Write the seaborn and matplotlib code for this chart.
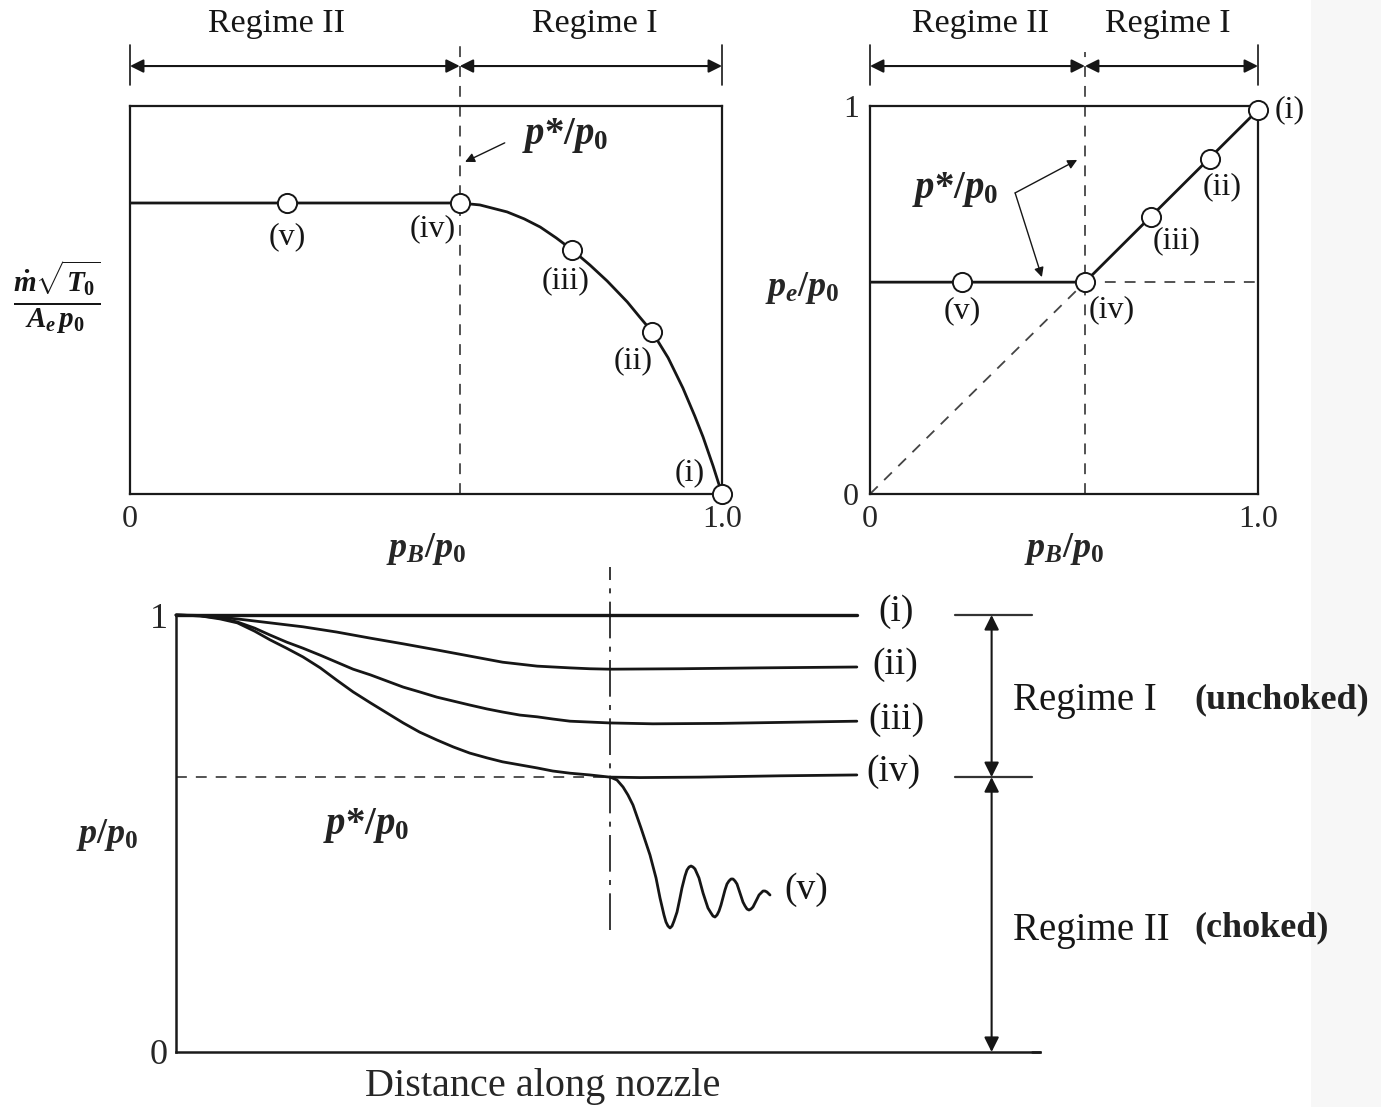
import numpy as np
import pandas as pd
import matplotlib
matplotlib.use("Agg")
import matplotlib.pyplot as plt
import seaborn as sns
from matplotlib.patches import Rectangle

# ---- mass flow parameter vs back pressure (upper left) ----
mdot_pb = [0.0, 0.557, 0.591, 0.637, 0.666, 0.693, 0.720, 0.747, 0.777, 0.806, 0.840,
           0.861, 0.882, 0.909, 0.934, 0.954, 0.968, 0.985, 1.0]
mdot_val = [0.750, 0.750, 0.745, 0.727, 0.709, 0.688, 0.660, 0.629, 0.590, 0.549, 0.495,
            0.456, 0.418, 0.351, 0.273, 0.201, 0.147, 0.072, 0.0]
mdot_pts_pb = [0.265, 0.557, 0.747, 0.882, 1.0]
mdot_pts_val = [0.750, 0.750, 0.629, 0.418, 0.0]
case_labels = ["(v)", "(iv)", "(iii)", "(ii)", "(i)"]
pstar_left = 0.557

# ---- exit pressure vs back pressure (upper right) ----
pe_pb = [0.0, 0.554, 1.0]
pe_val = [0.546, 0.546, 0.99]
pe_pts_pb = [0.237, 0.554, 0.724, 0.876, 1.0]
pe_pts_val = [0.546, 0.546, 0.715, 0.863, 0.99]
pstar_right = 0.554

# ---- pressure distributions along the nozzle (bottom) ----
x_i = [0.0, 0.788]
p_i = [1.0, 1.0]
x_ii = [0.0, 0.028, 0.051, 0.071, 0.109, 0.147, 0.186, 0.225, 0.263, 0.302, 0.340, 0.378,
        0.418, 0.456, 0.479, 0.502, 0.583, 0.676, 0.788]
p_ii = [1.0, 0.999, 0.995, 0.991, 0.982, 0.973, 0.961, 0.947, 0.934, 0.920, 0.906, 0.892,
        0.883, 0.879, 0.877, 0.876, 0.877, 0.879, 0.881]
x_iii = [0.0, 0.028, 0.051, 0.071, 0.091, 0.109, 0.128, 0.147, 0.167, 0.186, 0.205, 0.225,
         0.244, 0.263, 0.282, 0.302, 0.321, 0.340, 0.360, 0.378, 0.398, 0.418, 0.436, 0.456,
         0.479, 0.502, 0.552, 0.630, 0.788]
p_iii = [1.0, 0.998, 0.993, 0.984, 0.970, 0.954, 0.938, 0.924, 0.908, 0.892, 0.876, 0.863,
         0.849, 0.835, 0.824, 0.812, 0.803, 0.794, 0.785, 0.778, 0.771, 0.767, 0.762, 0.757,
         0.755, 0.753, 0.751, 0.752, 0.757]
x_iv = [0.0, 0.028, 0.051, 0.071, 0.091, 0.109, 0.128, 0.147, 0.167, 0.186, 0.205, 0.225,
        0.244, 0.263, 0.282, 0.302, 0.321, 0.340, 0.360, 0.378, 0.398, 0.418, 0.436, 0.456,
        0.479, 0.502, 0.537, 0.606, 0.699, 0.788]
p_iv = [1.0, 0.998, 0.991, 0.982, 0.963, 0.943, 0.924, 0.904, 0.879, 0.851, 0.824, 0.799,
        0.776, 0.753, 0.732, 0.714, 0.698, 0.684, 0.673, 0.664, 0.657, 0.650, 0.643, 0.638,
        0.634, 0.629, 0.628, 0.629, 0.632, 0.634]
x_v = [0.5023, 0.5104, 0.5174, 0.5231, 0.5289, 0.5382, 0.5486, 0.5556, 0.5602, 0.5648,
       0.5671, 0.5694, 0.5718, 0.5741, 0.5764, 0.5799, 0.5833, 0.5856, 0.5891, 0.5914,
       0.5938, 0.5961, 0.5984, 0.6007, 0.6053, 0.6100, 0.6134, 0.6157, 0.6192, 0.6215,
       0.6238, 0.6262, 0.6285, 0.6308, 0.6354, 0.6377, 0.6400, 0.6424, 0.6447, 0.6470,
       0.6493, 0.6539, 0.6562, 0.6586, 0.6609, 0.6632, 0.6655, 0.6678, 0.6725, 0.6748,
       0.6771, 0.6794, 0.6817, 0.6840, 0.6875]
p_v = [0.6293, 0.6224, 0.6064, 0.5881, 0.5652, 0.5126, 0.4508, 0.3982, 0.3524, 0.3135,
       0.2975, 0.2883, 0.2838, 0.2883, 0.2998, 0.3204, 0.3524, 0.3753, 0.4027, 0.4165,
       0.4233, 0.4256, 0.4233, 0.4188, 0.3982, 0.3638, 0.3432, 0.3295, 0.3181, 0.3112,
       0.3089, 0.3135, 0.3227, 0.3364, 0.3707, 0.3844, 0.3913, 0.3959, 0.3959, 0.3913,
       0.3844, 0.3570, 0.3432, 0.3341, 0.3272, 0.3249, 0.3272, 0.3318, 0.3501, 0.3593,
       0.3638, 0.3684, 0.3684, 0.3661, 0.3593]
x_throat = 0.502
p_star_bottom = 0.629

sns.set_theme(style="white")
plt.rcParams.update({
    "font.family": ["Liberation Serif", "DejaVu Serif"],
    "mathtext.fontset": "custom",
    "mathtext.rm": "Liberation Serif:bold",
    "mathtext.it": "Liberation Serif:italic:bold",
    "mathtext.bf": "Liberation Serif:bold",
    "axes.edgecolor": "#1a1a1a",
    "lines.solid_joinstyle": "round",
    "lines.solid_capstyle": "round",
})

INK = "#161616"
DASH = "#444444"
PSTAR = r"$p{*}/p_0$"

fig = plt.figure(figsize=(13.81, 11.07), dpi=100)
fig.patch.set_facecolor("white")
fig.patches.append(Rectangle((1311 / 1381, 0), 70 / 1381, 1, transform=fig.transFigure,
                             facecolor="#f7f7f7", edgecolor="none", zorder=-5))

W, H = 1381, 1107


def place(x0, y0, x1, y1):
    return fig.add_axes([x0 / W, 1 - y1 / H, (x1 - x0) / W, (y1 - y0) / H])


def darrow(ax, p0, p1, ms=20, lw=1.5):
    ax.annotate("", xy=p1, xytext=p0, xycoords="data", textcoords="data",
                arrowprops=dict(arrowstyle="<|-|>", color=INK, lw=lw,
                                mutation_scale=ms, shrinkA=0, shrinkB=0),
                annotation_clip=False)


def sarrow(ax, p0, p1, ms=16, lw=1.0):
    ax.annotate("", xy=p1, xytext=p0, xycoords="data", textcoords="data",
                arrowprops=dict(arrowstyle="-|>", color=INK, lw=lw,
                                mutation_scale=ms, shrinkA=0, shrinkB=0),
                annotation_clip=False)


marker_kw = dict(s=190, color="white", edgecolor=INK, linewidth=1.4, zorder=5, clip_on=False)

# ================= upper left =================
axL = place(130, 106, 722, 494)
sns.lineplot(data=pd.DataFrame({"pb": mdot_pb, "m": mdot_val}), x="pb", y="m", ax=axL,
             color=INK, lw=2.0, sort=False, estimator=None)
sns.scatterplot(data=pd.DataFrame({"pb": mdot_pts_pb, "m": mdot_pts_val}), x="pb", y="m",
                ax=axL, legend=False, **marker_kw)
axL.set_xlim(0, 1)
axL.set_ylim(0, 1)
axL.plot([pstar_left, pstar_left], [0, 1.16], color=DASH, lw=1.3, ls=(0, (6, 5)), clip_on=False)
for sp in axL.spines.values():
    sp.set_linewidth(1.6)
axL.set_xticks([0, 1])
axL.set_xticklabels(["0", "1.0"], fontsize=23)
axL.set_yticks([])
axL.tick_params(axis="x", length=0, pad=8)
axL.set_xlabel(r"$p_B/p_0$", fontsize=26, labelpad=-2)
axL.set_ylabel("")
fig.text(57 / W, 1 - 297 / H, r"$\frac{\dot{m}\sqrt{T_0}}{A_e\,p_0}$", fontsize=30,
         ha="center", va="center", color=INK)
lab_pos_L = [(0.265, 0.662), (0.512, 0.683), (0.735, 0.549), (0.850, 0.343), (0.946, 0.054)]
for lab, (x, y) in zip(case_labels, lab_pos_L):
    axL.text(x, y, lab, fontsize=23, ha="center", va="center", color=INK)
axL.text(0.662, 0.925, PSTAR, fontsize=28, ha="left", va="center", color="#222222")
sarrow(axL, (0.633, 0.905), (0.566, 0.856), ms=14)
for xx in (0.0, 1.0):
    axL.plot([xx, xx], [1.054, 1.157], color=INK, lw=1.2, clip_on=False)
darrow(axL, (0.0, 1.103), (pstar_left, 1.103))
darrow(axL, (pstar_left, 1.103), (1.0, 1.103))
axL.text(0.247, 1.211, "Regime II", fontsize=24.5, ha="center", va="center", color=INK)
axL.text(0.785, 1.211, "Regime I", fontsize=24.5, ha="center", va="center", color=INK)

# ================= upper right =================
axR = place(870, 106, 1258, 494)
axR.set_xlim(0, 1)
axR.set_ylim(0, 1)
axR.plot([0, pstar_right], [0, pe_val[0]], color=DASH, lw=1.3, ls=(0, (6, 5)))
axR.plot([pstar_right, 1.01], [pe_val[0], pe_val[0]], color=DASH, lw=1.3, ls=(0, (6, 5)), clip_on=False)
axR.plot([pstar_right, pstar_right], [0, 1.14], color=DASH, lw=1.3, ls=(0, (6, 5)), clip_on=False)
sns.lineplot(data=pd.DataFrame({"pb": pe_pb, "pe": pe_val}), x="pb", y="pe", ax=axR,
             color=INK, lw=2.0, sort=False, estimator=None)
sns.scatterplot(data=pd.DataFrame({"pb": pe_pts_pb, "pe": pe_pts_val}), x="pb", y="pe",
                ax=axR, legend=False, **marker_kw)
for sp in axR.spines.values():
    sp.set_linewidth(1.6)
axR.set_xticks([0, 1])
axR.set_xticklabels(["0", "1.0"], fontsize=23)
axR.set_yticks([0, 1])
axR.set_yticklabels(["0", "1"], fontsize=23)
axR.tick_params(length=0, pad=8)
axR.set_xlabel(r"$p_B/p_0$", fontsize=26, labelpad=-2)
axR.set_ylabel(r"$p_e/p_0$", fontsize=26, rotation=0, labelpad=30, va="center")
axR.yaxis.set_label_coords(-0.175, 0.53)
lab_pos_R = [(0.237, 0.472), (0.624, 0.474), (0.789, 0.652), (0.907, 0.791), (1.082, 0.99)]
for lab, (x, y) in zip(case_labels, lab_pos_R):
    axR.text(x, y, lab, fontsize=23, ha="center", va="center", color=INK)
axR.text(0.108, 0.784, PSTAR, fontsize=28, ha="left", va="center", color="#222222")
sarrow(axR, (0.374, 0.776), (0.534, 0.861), ms=14)
sarrow(axR, (0.374, 0.776), (0.443, 0.559), ms=14)
for xx in (0.0, 1.0):
    axR.plot([xx, xx], [1.054, 1.157], color=INK, lw=1.2, clip_on=False)
darrow(axR, (0.0, 1.103), (pstar_right, 1.103))
darrow(axR, (pstar_right, 1.103), (1.0, 1.103))
axR.text(0.284, 1.211, "Regime II", fontsize=24.5, ha="center", va="center", color=INK)
axR.text(0.768, 1.211, "Regime I", fontsize=24.5, ha="center", va="center", color=INK)

# ================= bottom: pressure along the nozzle =================
axB = place(176, 615, 1040, 1052)
axB.set_xlim(0, 1)
axB.set_ylim(0, 1)
axB.plot([0, x_throat], [p_star_bottom, p_star_bottom], color=DASH, lw=1.3, ls=(0, (6, 5)))
axB.plot([x_throat, x_throat], [0.279, 1.11], color=INK, lw=1.2,
         ls=(0, (22, 5, 3, 5)), clip_on=False)
curves = [(x_i, p_i), (x_ii, p_ii), (x_iii, p_iii), (x_iv, p_iv), (x_v, p_v)]
frames = []
for name, (xs, ps) in zip(["i", "ii", "iii", "iv", "v"], curves):
    frames.append(pd.DataFrame({"x": xs, "p": ps, "case": name}))
dist = pd.concat(frames, ignore_index=True)
for name, grp in dist.groupby("case", sort=False):
    sns.lineplot(data=grp, x="x", y="p", ax=axB, color=INK, lw=2.4 if name == "i" else 2.0,
                 sort=False, estimator=None, clip_on=False)
sns.despine(ax=axB)
axB.spines["left"].set_linewidth(1.8)
axB.spines["bottom"].set_linewidth(1.8)
axB.set_xticks([])
axB.set_yticks([0, 1])
axB.set_yticklabels(["0", "1"], fontsize=26)
axB.tick_params(length=0, pad=6)
axB.set_xlabel("Distance along nozzle", fontsize=29)
axB.xaxis.set_label_coords(0.424, -0.078)
axB.xaxis.label.set_va("center")
axB.set_ylabel(r"$p/p_0$", fontsize=26, rotation=0, va="center")
axB.yaxis.set_label_coords(-0.080, 0.497)
bottom_lab = [(0.833, 1.007), (0.833, 0.886), (0.834, 0.760), (0.830, 0.641), (0.729, 0.371)]
for lab, (x, y) in zip(["(i)", "(ii)", "(iii)", "(iv)", "(v)"], bottom_lab):
    axB.text(x, y, lab, fontsize=27, ha="center", va="center", color=INK, clip_on=False)
axB.text(0.220, 0.519, PSTAR, fontsize=28, ha="center", va="center", color="#222222")
for yy in (1.0, p_star_bottom):
    axB.plot([0.902, 0.991], [yy, yy], color="#333333", lw=1.6, clip_on=False)
darrow(axB, (0.944, 1.0), (0.944, p_star_bottom), ms=22)
darrow(axB, (0.944, p_star_bottom), (0.944, 0.0), ms=22)
axB.plot([0.991, 1.0], [0, 0], color=INK, lw=1.8, clip_on=False)
axB.text(0.969, 0.805, "Regime I", fontsize=28, ha="left", va="center", color=INK, clip_on=False)
axB.text(1.179, 0.805, "(unchoked)", fontsize=26, fontweight="bold", ha="left", va="center",
         color="#222222", clip_on=False)
axB.text(0.969, 0.279, "Regime II", fontsize=28, ha="left", va="center", color=INK, clip_on=False)
axB.text(1.179, 0.284, "(choked)", fontsize=26, fontweight="bold", ha="left", va="center",
         color="#222222", clip_on=False)

fig.savefig("out.png", dpi=100, facecolor="white")
